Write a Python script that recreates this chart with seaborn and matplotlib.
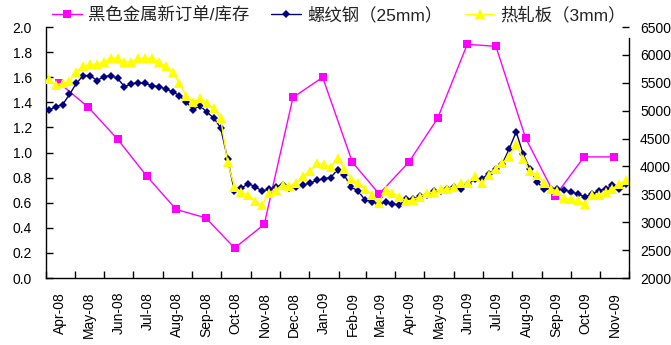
import numpy as np
import pandas as pd
import matplotlib
matplotlib.use("Agg")
import matplotlib.pyplot as plt
import matplotlib.dates as mdates
import seaborn as sns

# Monthly ratio: ferrous metals new orders / inventory (left axis), mid-month
order_months = pd.date_range("2008-04-01", periods=20, freq="MS") + pd.Timedelta(days=14)
order_ratio = [1.553, 1.362, 1.104, 0.814, 0.546, 0.479, 0.239, 0.428, 1.439, 1.599,
               0.923, 0.670, 0.923, 1.271, 1.862, 1.846, 1.115, 0.655, 0.965, 0.965]

# Weekly steel prices, RMB/t (right axis)
week_dates = pd.date_range("2008-04-04", "2009-11-28", periods=85)
rebar_25mm = [5010, 5070, 5110, 5290, 5490, 5630, 5630, 5540, 5610, 5630,
              5580, 5430, 5480, 5500, 5490, 5450, 5430, 5390, 5340, 5270,
              5150, 5020, 5090, 4970, 4870, 4690, 4140,
              3560, 3610, 3690, 3640, 3560, 3590, 3630, 3670, 3620, 3630,
              3670, 3700, 3750, 3780, 3800, 3940, 3840, 3630, 3560, 3400,
              3370, 3320, 3360, 3330, 3310, 3410, 3410, 3470, 3490, 3560,
              3560, 3590, 3630, 3600, 3680, 3780, 3780, 3870, 3950, 4050,
              4320, 4620, 4230, 3950, 3730, 3600, 3600, 3590, 3580, 3540,
              3510, 3450, 3510, 3560, 3600, 3660, 3600, 3680]
hrc_3mm = [5560, 5460, 5490, 5530, 5700, 5800, 5830, 5830, 5880, 5940,
           5940, 5880, 5880, 5940, 5940, 5940, 5880, 5800, 5700, 5490,
           5270, 5160, 5230, 5130, 5040, 4860, 4080,
           3640, 3540, 3490, 3380, 3300, 3520, 3580, 3670, 3650, 3710,
           3830, 3920, 4060, 4040, 3990, 4160, 3960, 3780, 3710, 3600,
           3490, 3350, 3580, 3520, 3460, 3380, 3400, 3460, 3520, 3540,
           3590, 3600, 3630, 3700, 3700, 3820, 3700, 3850, 3960, 4060,
           4180, 4410, 4130, 3910, 3850, 3710, 3600, 3560, 3430, 3410,
           3390, 3330, 3480, 3490, 3540, 3600, 3690, 3750]

series_names = ["黑色金属新订单/库存", "螺纹钢（25mm）", "热轧板（3mm）"]
left_ticks = np.arange(0, 2.01, 0.2)
right_ticks = np.arange(2000, 6501, 500)

sns.set_theme(style="white")
plt.rcParams["font.family"] = ["Liberation Sans", "Noto Sans CJK SC", "DejaVu Sans"]
plt.rcParams["axes.linewidth"] = 1.0

W, H = 671, 345
fig = plt.figure(figsize=(W / 100, H / 100), dpi=100)
ax = fig.add_axes([46 / W, 1 - 278 / H, (629 - 46) / W, (278 - 27) / H])
ax2 = ax.twinx()

sns.lineplot(x=order_months, y=order_ratio, ax=ax, color="#FF00FF", marker="s",
             markersize=5.5, markeredgewidth=0, linewidth=1.0, legend=False)
h1 = ax.lines[-1]
sns.lineplot(x=week_dates, y=rebar_25mm, ax=ax2, color="#000080", marker="D",
             markersize=4, markeredgewidth=0, linewidth=1.0, legend=False)
h2 = ax2.lines[-1]
sns.lineplot(x=week_dates, y=hrc_3mm, ax=ax2, color="#FFFF00", marker="^",
             markersize=6.5, markeredgewidth=0, linewidth=1.0, legend=False)
h3 = ax2.lines[-1]

ax.set_xlim(mdates.date2num(pd.Timestamp("2008-04-01")),
            mdates.date2num(pd.Timestamp("2009-12-01")))
ax.set_ylim(0, 2.0)
ax2.set_ylim(2000, 6500)
ax.set_yticks(left_ticks)
ax.set_yticklabels([f"{v:.1f}" for v in left_ticks])
ax2.set_yticks(right_ticks)
ax2.set_yticklabels([f"{int(v)}" for v in right_ticks])

ax.xaxis.set_major_locator(mdates.MonthLocator())
ax.xaxis.set_major_formatter(plt.NullFormatter())
ax.xaxis.set_minor_locator(mdates.MonthLocator(bymonthday=16))
ax.xaxis.set_minor_formatter(mdates.DateFormatter("%b-%y"))
ax.set_xlabel("")
ax.set_ylabel("")
ax2.set_ylabel("")

ax.tick_params(axis="x", which="major", direction="in", length=5, width=1,
               color="black", bottom=True)
ax.tick_params(axis="x", which="minor", length=0, pad=10, labelsize=10,
               labelrotation=90, labelcolor="black")
ax.tick_params(axis="y", direction="in", length=5, width=1, color="black",
               left=True, pad=10, labelsize=10, labelcolor="black")
ax2.tick_params(axis="y", direction="in", length=5, width=1, color="black",
                right=True, pad=8, labelsize=10, labelcolor="black")

for a in (ax, ax2):
    a.spines["top"].set_visible(False)
    for s in ("left", "right", "bottom"):
        a.spines[s].set_color("black")
ax.spines["right"].set_visible(False)
ax2.spines["left"].set_visible(False)
ax2.spines["bottom"].set_visible(False)
ax2.spines["right"].set_bounds(2000, 6300)

for h, name in zip((h1, h2, h3), series_names):
    h.set_label(name)
fig.legend(handles=[h1, h2, h3], labels=series_names, loc="center",
           bbox_to_anchor=(339 / W, 1 - 15 / H), ncol=3, frameon=False,
           handlelength=1.7, handletextpad=0.35,
           columnspacing=1.3, borderaxespad=0, labelcolor="#222222",
           prop={"family": ["Liberation Sans", "Noto Sans CJK SC"], "size": 12.5})

fig.savefig("out.png", dpi=100, facecolor="white")
